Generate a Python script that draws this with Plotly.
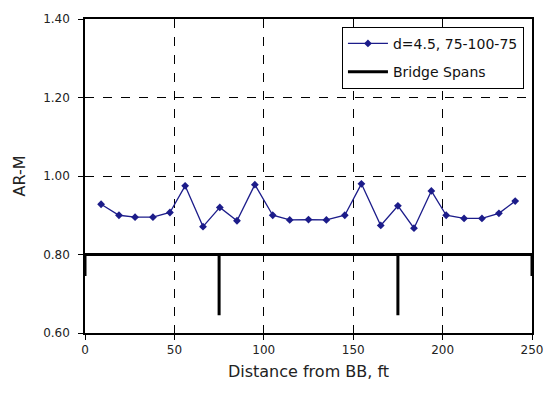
import plotly.graph_objects as go

# Data
dist_ft = [9, 19, 28, 38, 47.5, 56, 66, 75.4, 85, 95, 105, 114.5, 125, 135, 145.3,
           154.6, 165.4, 175, 184, 193.7, 202, 212, 222, 231.5, 240.6]
ar_m = [0.928, 0.900, 0.895, 0.895, 0.907, 0.975, 0.871, 0.920, 0.886, 0.978,
        0.900, 0.888, 0.889, 0.888, 0.900, 0.980, 0.874, 0.924, 0.867, 0.962,
        0.900, 0.892, 0.892, 0.905, 0.936]

span_x = [0, 0, 75, 75, 75, 175, 175, 175, 250, 250]
span_y = [0.745, 0.80, 0.80, 0.645, 0.80, 0.80, 0.645, 0.80, 0.80, 0.745]

x_ticks = [0, 50, 100, 150, 200, 250]
y_ticks = [0.60, 0.80, 1.00, 1.20, 1.40]

fig = go.Figure()
fig.add_trace(go.Scatter(
    x=dist_ft, y=ar_m, mode="lines+markers", name="d=4.5, 75-100-75",
    legendgroup="a",
    line=dict(color="#1c1c8a", width=1.3),
    marker=dict(symbol="diamond", size=6, color="#1c1c8a"),
))
fig.add_trace(go.Scatter(
    x=span_x, y=span_y, mode="lines", name="Bridge Spans",
    legendgroup="b",
    line=dict(color="black", width=3),
))

font = "DejaVu Sans, Arial, sans-serif"
fig.update_layout(
    width=546, height=393,
    margin=dict(l=85, r=14, t=19, b=60),
    paper_bgcolor="white", plot_bgcolor="white",
    font=dict(family=font, size=12, color="#222"),
    showlegend=True,
    legend=dict(
        x=0.982, y=0.975, xanchor="right", yanchor="top",
        bordercolor="black", borderwidth=1, bgcolor="white",
        font=dict(size=14, color="#111"), tracegroupgap=7,
        itemwidth=40,
    ),
)
fig.update_xaxes(
    range=[0, 250], tickvals=x_ticks, ticks="outside", ticklen=5,
    tickcolor="black", showline=True, linecolor="black", linewidth=1.5,
    mirror=True, showgrid=True, gridcolor="black", griddash="dash",
    gridwidth=1, zeroline=False, automargin=False,
    title=dict(text="Distance from BB, ft", font=dict(size=16), standoff=10),
    tickfont=dict(size=12),
)
fig.update_yaxes(
    range=[0.6, 1.4], tickvals=y_ticks, tickformat=".2f", ticks="outside",
    ticklen=5, tickcolor="black", showline=True, linecolor="black",
    linewidth=1.5, mirror=True, showgrid=True, gridcolor="black",
    griddash="dash", gridwidth=1, zeroline=False, automargin=False,
    ticklabelstandoff=6,
    title=dict(text="AR-M", font=dict(size=16), standoff=14),
    tickfont=dict(size=12),
)

fig.write_html(
    "out.html",
    config={"displayModeBar": False},
    post_script="document.body.style.margin='0';document.body.style.overflow='hidden';",
)
